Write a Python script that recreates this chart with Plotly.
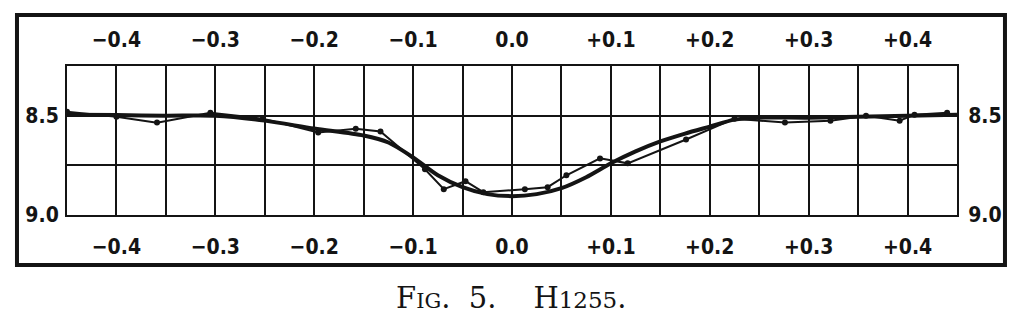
import plotly.graph_objects as go

# Smooth mean light curve (phase, magnitude)
curve_phase = [-0.45, -0.40, -0.35, -0.30, -0.25, -0.20, -0.15, -0.125, -0.10, -0.075,
               -0.05, -0.025, 0.0, 0.025, 0.05, 0.075, 0.10, 0.125, 0.15, 0.175,
               0.20, 0.225, 0.25, 0.30, 0.35, 0.40, 0.45]
curve_mag = [8.495, 8.497, 8.50, 8.50, 8.525, 8.565, 8.60, 8.635, 8.71, 8.80,
             8.86, 8.895, 8.905, 8.895, 8.865, 8.81, 8.74, 8.68, 8.63, 8.59,
             8.555, 8.52, 8.51, 8.51, 8.505, 8.50, 8.495]

# Observed normal points
obs_phase = [-0.450, -0.400, -0.359, -0.305, -0.252, -0.196, -0.158, -0.133, -0.088, -0.069,
             -0.047, -0.029, 0.013, 0.036, 0.055, 0.089, 0.117, 0.176, 0.225, 0.276,
             0.322, 0.358, 0.392, 0.407, 0.440]
obs_mag = [8.48, 8.505, 8.535, 8.485, 8.515, 8.585, 8.566, 8.58, 8.77, 8.87,
           8.83, 8.885, 8.87, 8.86, 8.80, 8.715, 8.74, 8.62, 8.515, 8.535,
           8.525, 8.50, 8.525, 8.495, 8.485]

x_grid = [-0.45, -0.40, -0.35, -0.30, -0.25, -0.20, -0.15, -0.10, -0.05, 0.0,
          0.05, 0.10, 0.15, 0.20, 0.25, 0.30, 0.35, 0.40, 0.45]
x_labels = ['', '\u22120.4', '', '\u22120.3', '', '\u22120.2', '', '\u22120.1', '', '0.0',
            '', '+0.1', '', '+0.2', '', '+0.3', '', '+0.4', '']
y_grid = [8.25, 8.5, 8.75, 9.0]
y_labels = ['', '8.5', '', '9.0']

INK = '#141414'
tick_font = dict(family='DejaVu Sans Condensed, Liberation Sans Narrow, sans-serif',
                 size=21, color=INK, weight='bold')

fig = go.Figure()
fig.add_trace(go.Scatter(x=curve_phase, y=curve_mag, mode='lines',
                         line=dict(color=INK, width=4, shape='spline', smoothing=0.8),
                         hoverinfo='skip', showlegend=False))
fig.add_trace(go.Scatter(x=obs_phase, y=obs_mag, mode='lines+markers',
                         line=dict(color=INK, width=2),
                         marker=dict(color=INK, size=6),
                         showlegend=False))
# invisible trace to anchor the mirrored axes
fig.add_trace(go.Scatter(x=[0], y=[8.5], xaxis='x2', yaxis='y2', mode='markers',
                         marker=dict(opacity=0), hoverinfo='skip', showlegend=False))

axis_common = dict(showgrid=True, gridcolor=INK, gridwidth=2, zeroline=False,
                   showline=True, linecolor=INK, linewidth=2, mirror=True,
                   ticks='outside', tickcolor='rgba(0,0,0,0)', tickfont=tick_font)

fig.update_layout(
    width=1024, height=332,
    margin=dict(l=67, r=67, t=66, b=117),
    paper_bgcolor='white', plot_bgcolor='white',
    xaxis=dict(range=[-0.45, 0.45], tickmode='array', tickvals=x_grid, ticktext=x_labels,
               side='bottom', ticklen=12, **axis_common),
    xaxis2=dict(range=[-0.45, 0.45], tickmode='array', tickvals=x_grid, ticktext=x_labels,
                overlaying='x', side='top', ticklen=10, showgrid=False, zeroline=False,
                showline=False, ticks='outside', tickcolor='rgba(0,0,0,0)', tickfont=tick_font),
    yaxis=dict(range=[9.0, 8.25], tickmode='array', tickvals=y_grid, ticktext=y_labels,
               side='left', ticklen=2, **axis_common),
    yaxis2=dict(range=[9.0, 8.25], tickmode='array', tickvals=y_grid, ticktext=y_labels,
                overlaying='y', side='right', ticklen=6, showgrid=False, zeroline=False,
                showline=False,
                ticks='outside', tickcolor='rgba(0,0,0,0)', tickfont=tick_font),
    shapes=[dict(type='rect', xref='paper', yref='paper',
                 x0=-0.0562, x1=1.0539, y0=-0.3356, y1=1.342,
                 line=dict(color=INK, width=4), layer='above')],
    annotations=[dict(xref='paper', yref='paper', x=0.4989, y=-0.557,
                      xanchor='center', yanchor='middle', showarrow=False,
                      text="F<span style='font-size:21px'>IG</span>.  5.    H<span style='font-size:23px'>1255</span>.",
                      font=dict(family='DejaVu Serif, Liberation Serif, serif', size=29, color=INK))],
)

fig.write_html('out.html')
